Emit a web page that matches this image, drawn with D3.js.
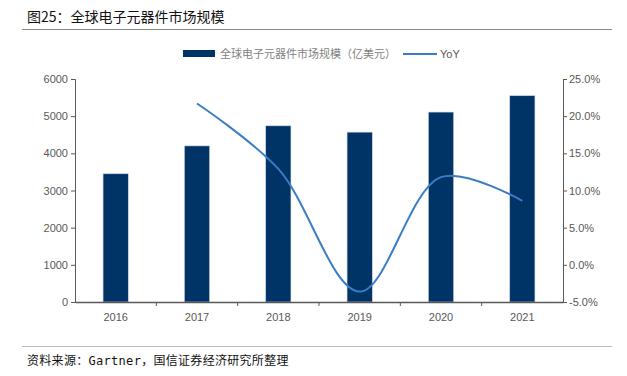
<!DOCTYPE html>
<html>
<head>
<meta charset="utf-8">
<script src="https://cdn.jsdelivr.net/npm/d3@7"></script>
<style>
  body { margin: 0; background: #fff; }
  .axis text { font-family: Arial, 'Liberation Sans', sans-serif; font-size: 11px; fill: #595959; }
  .axis path, .axis line { stroke: #595959; }
</style>
</head>
<body>
<div id="chart"></div>
<script>
let years = ['2016', '2017', '2018', '2019', '2020', '2021']
let marketSize = [3450, 4200, 4740, 4570, 5110, 5550]
let yoyYears = ['2017', '2018', '2019', '2020', '2021']
let yoy = [21.7, 12.9, -3.6, 11.8, 8.6]
let leftTicks = [0, 1000, 2000, 3000, 4000, 5000, 6000]
let rightTicks = [-5, 0, 5, 10, 15, 20, 25]

let margin = { top: 79, left: 75, right: 64, bottom: 74 }
let width = 627 - margin.left - margin.right
let height = 376 - margin.top - margin.bottom

let root = d3
  .select('#chart')
  .append('svg')
  .attr('width', 627)
  .attr('height', 376)

// title and rules
root
  .append('text')
  .attr('x', 27)
  .attr('y', 22)
  .attr('font-family', "'Noto Sans CJK SC', sans-serif")
  .attr('font-size', 14)
  .attr('fill', '#111')
  .text('图25：全球电子元器件市场规模')

root.append('line').attr('x1', 22).attr('x2', 612).attr('y1', 29.5).attr('y2', 29.5).attr('stroke', '#888')
root.append('line').attr('x1', 22).attr('x2', 612).attr('y1', 346.5).attr('y2', 346.5).attr('stroke', '#bbb')

root
  .append('text')
  .attr('x', 27)
  .attr('y', 365)
  .attr('font-family', "'DejaVu Sans Mono', 'Noto Sans CJK SC', monospace")
  .attr('font-size', 12)
  .attr('letter-spacing', 0.3)
  .attr('fill', '#111')
  .text('资料来源：Gartner，国信证券经济研究所整理')

// legend
let legend = root.append('g')
legend.append('rect').attr('x', 183).attr('y', 50).attr('width', 32).attr('height', 7).attr('fill', '#003366')
legend
  .append('text')
  .attr('x', 220)
  .attr('y', 58)
  .attr('font-family', "'Noto Sans CJK SC', sans-serif")
  .attr('font-size', 11)
  .attr('fill', '#7f7f7f')
  .text('全球电子元器件市场规模（亿美元）')
legend.append('line').attr('x1', 403).attr('x2', 437).attr('y1', 54).attr('y2', 54).attr('stroke', '#3b7dc4').attr('stroke-width', 2)
legend
  .append('text')
  .attr('x', 440)
  .attr('y', 58)
  .attr('font-family', 'Arial, sans-serif')
  .attr('font-size', 11)
  .attr('fill', '#595959')
  .text('YoY')

let svg = root.append('g').attr('transform', 'translate(' + margin.left + ',' + margin.top + ')')

let xPositionScale = d3.scaleBand().domain(years).range([0, width])
let yLeftScale = d3.scaleLinear().domain([0, 6000]).range([height, 0])
let yRightScale = d3.scaleLinear().domain([-5, 25]).range([height, 0])

let barWidth = xPositionScale.bandwidth() * 0.31

svg
  .selectAll('.bar')
  .data(years)
  .enter()
  .append('rect')
  .attr('class', 'bar')
  .attr('x', d => xPositionScale(d) + (xPositionScale.bandwidth() - barWidth) / 2)
  .attr('y', (d, i) => yLeftScale(marketSize[i]))
  .attr('width', barWidth)
  .attr('height', (d, i) => height - yLeftScale(marketSize[i]))
  .attr('fill', '#003366')
  .attr('stroke', '#c9d3e0')
  .attr('stroke-width', 0.6)

let line = d3
  .line()
  .x(d => xPositionScale(d[0]) + xPositionScale.bandwidth() / 2)
  .y(d => yRightScale(d[1]))
  .curve(d3.curveCatmullRom.alpha(0.5))

svg
  .append('path')
  .datum(yoyYears.map((y, i) => [y, yoy[i]]))
  .attr('d', line)
  .attr('fill', 'none')
  .attr('stroke', '#3b7dc4')
  .attr('stroke-width', 2)

// axes
let yAxisLeft = d3
  .axisLeft(yLeftScale)
  .tickValues(leftTicks)
  .tickSize(4)
  .tickPadding(3)
  .tickFormat(d3.format('d'))
svg.append('g').attr('class', 'axis').call(yAxisLeft)

let yAxisRight = d3
  .axisRight(yRightScale)
  .tickValues(rightTicks)
  .tickSize(4)
  .tickPadding(2)
  .tickFormat(d => d.toFixed(1) + '%')
svg.append('g').attr('class', 'axis').attr('transform', 'translate(' + width + ',0)').call(yAxisRight)

let xAxis = d3.axisBottom(xPositionScale).tickSize(0).tickPadding(11)
let xg = svg.append('g').attr('class', 'axis').attr('transform', 'translate(0,' + height + ')').call(xAxis)
xg.select('.domain').attr('stroke-width', 1.5)
xg
  .selectAll('.sep')
  .data(years.slice(1))
  .enter()
  .append('line')
  .attr('x1', d => xPositionScale(d))
  .attr('x2', d => xPositionScale(d))
  .attr('y1', 0)
  .attr('y2', 4)
  .attr('stroke', '#595959')

svg.selectAll('.axis .domain').attr('stroke', '#595959')
</script>
</body>
</html>
